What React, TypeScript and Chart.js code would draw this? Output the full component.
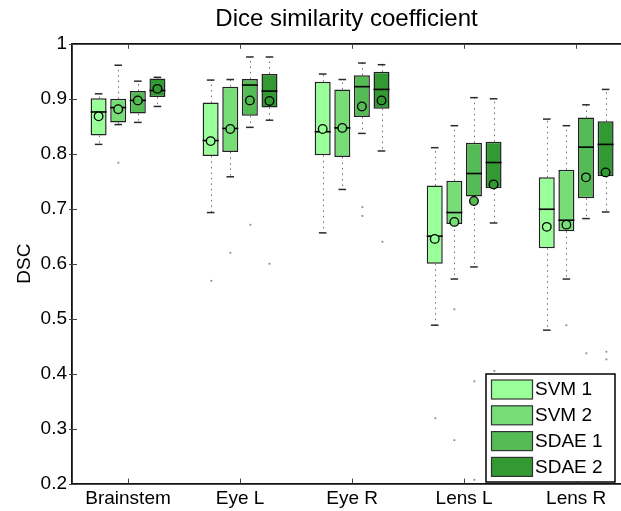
import React, { useEffect, useRef } from 'react';
import { Chart, registerables } from 'chart.js';

Chart.register(...registerables);

const FONT = '"Liberation Sans", Arial, Helvetica, sans-serif';

const categories = ['Brainstem', 'Eye L', 'Eye R', 'Lens L', 'Lens R'];
const categoryPositions = [1, 2, 3, 4, 5];
const seriesNames = ['SVM 1', 'SVM 2', 'SDAE 1', 'SDAE 2'];
const seriesColors = ['#99ff99', '#77dd77', '#55bb55', '#339933'];
const yTickValues = [0.2, 0.3, 0.4, 0.5, 0.6, 0.7, 0.8, 0.9, 1.0];

// SVM 1
const svm1Low = [0.817, 0.693, 0.656, 0.488, 0.479];
const svm1Q1 = [0.833, 0.796, 0.797, 0.600, 0.628];
const svm1Median = [0.876, 0.824, 0.840, 0.650, 0.699];
const svm1Q3 = [0.901, 0.893, 0.931, 0.742, 0.757];
const svm1High = [0.909, 0.934, 0.945, 0.811, 0.863];
const svm1Mean = [0.868, 0.823, 0.845, 0.645, 0.667];
const svm1Outliers = [[], [0.569], [], [0.319], []];

// SVM 2
const svm2Low = [0.853, 0.758, 0.735, 0.572, 0.572];
const svm2Q1 = [0.857, 0.803, 0.794, 0.672, 0.659];
const svm2Median = [0.884, 0.846, 0.847, 0.693, 0.679];
const svm2Q3 = [0.900, 0.922, 0.917, 0.751, 0.771];
const svm2High = [0.961, 0.935, 0.935, 0.851, 0.851];
const svm2Mean = [0.881, 0.845, 0.847, 0.676, 0.671];
const svm2Outliers = [[0.784], [0.620], [], [0.517, 0.279], [0.488]];

// SDAE 1
const sdae1Low = [0.857, 0.848, 0.837, 0.594, 0.682];
const sdae1Q1 = [0.873, 0.869, 0.867, 0.722, 0.719];
const sdae1Median = [0.897, 0.925, 0.922, 0.764, 0.812];
const sdae1Q3 = [0.914, 0.936, 0.943, 0.820, 0.866];
const sdae1High = [0.932, 0.976, 0.965, 0.902, 0.889];
const sdae1Mean = [0.897, 0.897, 0.886, 0.714, 0.757];
const sdae1Outliers = [[], [0.671], [0.703, 0.687], [0.386, 0.207], [0.437]];

// SDAE 2
const sdae2Low = [0.886, 0.861, 0.805, 0.674, 0.694];
const sdae2Q1 = [0.903, 0.884, 0.882, 0.737, 0.759];
const sdae2Median = [0.915, 0.914, 0.917, 0.784, 0.817];
const sdae2Q3 = [0.937, 0.945, 0.949, 0.822, 0.859];
const sdae2High = [0.939, 0.976, 0.962, 0.900, 0.917];
const sdae2Mean = [0.918, 0.896, 0.897, 0.744, 0.766];
const sdae2Outliers = [[], [0.600], [0.640], [0.405], [0.440, 0.426]];

type Stats = {
  low: number[]; q1: number[]; med: number[]; q3: number[]; high: number[];
  mean: number[]; out: number[][];
};

const stats: Stats[] = [
  { low: svm1Low, q1: svm1Q1, med: svm1Median, q3: svm1Q3, high: svm1High, mean: svm1Mean, out: svm1Outliers },
  { low: svm2Low, q1: svm2Q1, med: svm2Median, q3: svm2Q3, high: svm2High, mean: svm2Mean, out: svm2Outliers },
  { low: sdae1Low, q1: sdae1Q1, med: sdae1Median, q3: sdae1Q3, high: sdae1High, mean: sdae1Mean, out: sdae1Outliers },
  { low: sdae2Low, q1: sdae2Q1, med: sdae2Median, q3: sdae2Q3, high: sdae2High, mean: sdae2Mean, out: sdae2Outliers },
];

const whiskerPlugin = {
  id: 'boxWhiskers',
  beforeDatasetsDraw(chart: any) {
    const { ctx } = chart;
    const y = chart.scales.y;
    ctx.save();
    ctx.strokeStyle = '#6f6f6f';
    ctx.lineWidth = 1;
    ctx.setLineDash([1.5, 4]);
    stats.forEach((s, d) => {
      const meta = chart.getDatasetMeta(d);
      meta.data.forEach((el: any, i: number) => {
        const cx = Math.round(el.x) + 0.5;
        ctx.beginPath();
        ctx.moveTo(cx, y.getPixelForValue(s.q3[i]));
        ctx.lineTo(cx, y.getPixelForValue(s.high[i]));
        ctx.moveTo(cx, y.getPixelForValue(s.q1[i]));
        ctx.lineTo(cx, y.getPixelForValue(s.low[i]));
        ctx.stroke();
      });
    });
    ctx.restore();
  },
  afterDatasetsDraw(chart: any) {
    const { ctx } = chart;
    const y = chart.scales.y;
    ctx.save();
    stats.forEach((s, d) => {
      const meta = chart.getDatasetMeta(d);
      meta.data.forEach((el: any, i: number) => {
        const cx = el.x;
        const w = el.width;
        ctx.strokeStyle = '#2a2a2a';
        ctx.lineWidth = 1.5;
        const capHalf = 3.8;
        [s.high[i], s.low[i]].forEach((v) => {
          const py = y.getPixelForValue(v);
          ctx.beginPath();
          ctx.moveTo(cx - capHalf, py);
          ctx.lineTo(cx + capHalf, py);
          ctx.stroke();
        });
        ctx.strokeStyle = '#000';
        ctx.lineWidth = 1.6;
        const pm = y.getPixelForValue(s.med[i]);
        ctx.beginPath();
        ctx.moveTo(cx - w / 2, pm);
        ctx.lineTo(cx + w / 2, pm);
        ctx.stroke();
        ctx.fillStyle = '#8a8a8a';
        s.out[i].forEach((v) => {
          const po = y.getPixelForValue(v);
          ctx.fillRect(Math.round(cx) - 0.5, po - 0.8, 1.8, 1.8);
        });
        const pmean = y.getPixelForValue(s.mean[i]);
        ctx.beginPath();
        ctx.arc(cx, pmean, 4.3, 0, Math.PI * 2);
        ctx.fillStyle = seriesColors[d];
        ctx.fill();
        ctx.strokeStyle = '#000';
        ctx.lineWidth = 1.3;
        ctx.stroke();
      });
    });
    ctx.restore();
  },
};

const axesPlugin = {
  id: 'matlabAxes',
  afterDraw(chart: any) {
    const { ctx, chartArea: a } = chart;
    const x = chart.scales.x;
    const y = chart.scales.y;
    ctx.save();
    ctx.strokeStyle = '#111';
    ctx.lineWidth = 1.8;
    ctx.beginPath();
    ctx.moveTo(a.left - 0.9, a.top);
    ctx.lineTo(a.right, a.top);
    ctx.stroke();
    ctx.strokeStyle = '#444';
    ctx.lineWidth = 1;
    x.ticks.forEach((t: any) => {
      const px = Math.round(x.getPixelForValue(t.value)) + 0.5;
      ctx.beginPath();
      ctx.moveTo(px, a.bottom);
      ctx.lineTo(px, a.bottom - 5);
      ctx.moveTo(px, a.top);
      ctx.lineTo(px, a.top + 5);
      ctx.stroke();
    });
    y.ticks.forEach((t: any) => {
      const py = Math.round(y.getPixelForValue(t.value)) + 0.5;
      ctx.beginPath();
      ctx.moveTo(a.left - 3, py);
      ctx.lineTo(a.left + 5, py);
      ctx.stroke();
    });
    ctx.restore();
  },
};

const legendPlugin = {
  id: 'boxLegend',
  afterDraw(chart: any) {
    const { ctx, chartArea: a } = chart;
    const w = 129;
    const h = 108;
    const x0 = a.right - 135;
    const y0 = a.bottom - 109.5;
    ctx.save();
    ctx.fillStyle = '#fff';
    ctx.fillRect(x0, y0, w, h);
    ctx.strokeStyle = '#000';
    ctx.lineWidth = 1.5;
    ctx.strokeRect(x0, y0, w, h);
    chart.data.datasets.forEach((ds: any, i: number) => {
      const sy = y0 + 6 + i * 25.8;
      ctx.fillStyle = ds.backgroundColor;
      ctx.fillRect(x0 + 5.5, sy, 41, 19);
      ctx.strokeStyle = '#333';
      ctx.lineWidth = 1.2;
      ctx.strokeRect(x0 + 5.5, sy, 41, 19);
      ctx.fillStyle = '#000';
      ctx.font = `19px ${FONT}`;
      ctx.textBaseline = 'middle';
      ctx.textAlign = 'left';
      ctx.fillText(ds.label, x0 + 49, sy + 10);
    });
    ctx.restore();
  },
};

export default function App() {
  const canvasRef = useRef<HTMLCanvasElement | null>(null);

  useEffect(() => {
    if (!canvasRef.current) return;
    const datasets = seriesNames.map((name, d) => ({
      label: name,
      data: categoryPositions.map((xv, i) => ({ x: xv, y: [stats[d].q1[i], stats[d].q3[i]] })),
      backgroundColor: seriesColors[d],
      borderColor: '#222',
      borderWidth: 1.5,
      borderSkipped: false,
      categoryPercentage: 0.7,
      barPercentage: 0.816,
    }));

    const chart = new Chart(canvasRef.current, {
      type: 'bar',
      data: { datasets: datasets as any },
      plugins: [whiskerPlugin, axesPlugin, legendPlugin],
      options: {
        animation: false,
        responsive: false,
        maintainAspectRatio: false,
        events: [],
        layout: { padding: 0 },
        plugins: {
          legend: { display: false },
          tooltip: { enabled: false },
          title: {
            display: true,
            text: 'Dice similarity coefficient',
            fullSize: false,
            color: '#000',
            font: { family: FONT, size: 24, weight: 'normal' },
            padding: { top: 5, bottom: 10 },
          },
        },
        scales: {
          x: {
            type: 'linear',
            min: 0.5,
            max: 5.4,
            offset: false,
            grid: { display: false, drawTicks: false },
            border: { display: true, color: '#111', width: 1.8 },
            afterBuildTicks: (scale: any) => {
              scale.ticks = categoryPositions.map((v) => ({ value: v }));
            },
            afterFit: (scale: any) => {
              scale.height = 27.5;
            },
            ticks: {
              autoSkip: false,
              maxRotation: 0,
              padding: 4,
              color: '#000',
              font: { family: FONT, size: 19 },
              callback: (v: any) => categories[Number(v) - 1] ?? '',
            },
          },
          y: {
            type: 'linear',
            min: 0.2,
            max: 1,
            grid: { display: false, drawTicks: false },
            border: { display: true, color: '#111', width: 1.8 },
            afterBuildTicks: (scale: any) => {
              scale.ticks = yTickValues.map((v) => ({ value: v }));
            },
            afterFit: (scale: any) => {
              scale.width = 72;
            },
            title: {
              display: true,
              text: 'DSC',
              color: '#000',
              font: { family: FONT, size: 19 },
              padding: { top: 13, bottom: 0 },
            },
            ticks: {
              padding: 5,
              color: '#000',
              font: { family: FONT, size: 19 },
              callback: (v: any) => String(Number(Number(v).toFixed(1))),
            },
          },
        },
      } as any,
    });
    return () => chart.destroy();
  }, []);

  return (
    <div style={{ position: 'absolute', left: 0, top: 0, width: 621, height: 511, background: '#fff' }}>
      <canvas ref={canvasRef} width={621} height={511} style={{ display: 'block' }} />
    </div>
  );
}
